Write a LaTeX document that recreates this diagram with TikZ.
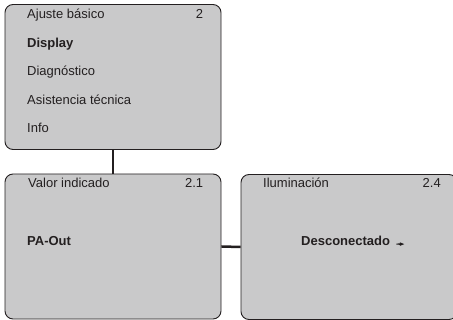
\documentclass[tikz,border=0pt]{standalone}
\usepackage{fontspec}
\setmainfont{Liberation Sans}
\usepackage{tikz}
\usetikzlibrary{positioning, arrows.meta}

\definecolor{boxgray}{RGB}{201,201,202}
\definecolor{inkgray}{RGB}{35,31,32}

\begin{document}
\begin{tikzpicture}[
            x=1pt, y=-1pt,
            menubox/.style={draw=inkgray, fill=boxgray, line width=0.9pt, rounded corners=8pt,
                minimum width=216pt, minimum height=145pt, inner sep=0pt},
            entry/.style={anchor=base west, inner sep=0pt, text=inkgray, font=\fontsize{13}{15}\selectfont},
            menuno/.style={entry, anchor=base east},
            chosen/.style={entry, font=\fontsize{13}{15}\selectfont\bfseries},
            link/.style={draw=inkgray, line width=2.5pt}
        ]

            \useasboundingbox (0,0) rectangle (453,320);
            \clip (0,0) rectangle (453,320);

            \node[menubox] (basic) at (113,77) {};
            \node[menubox] (value) at (113,246.5) {};
            \node[menubox] (light) at (349,247) {};

            \draw[link] (basic.south) -- (value.north);
            \draw[link] (value.east) -- (light.west);

            \node[entry] (basictitle) at (27,18.3) {Ajuste básico};
            \node[menuno] (basicno) at (203.3,18.3) {2};
            \node[chosen] (display) at (27,47.3) {Display};
            \node[entry] (diag) at (27,76) {Diagnóstico};
            \node[entry] (service) at (27,104.5) {Asistencia técnica};
            \node[entry] (info) at (27,133) {Info};

            \node[entry] (valuetitle) at (28,187.3) {Valor indicado};
            \node[menuno] (valueno) at (203.3,187.3) {2.1};
            \node[chosen] (paout) at (27,246) {PA-Out};

            \node[entry] (lighttitle) at (263,187.5) {Iluminación};
            \node[menuno] (lightno) at (441,187.5) {2.4};
            \node[chosen] (off) at (301,245.7) {Desconectado};
            \fill[inkgray] ([xshift=6pt, yshift=1.6pt]off.base east) -- ++(0,-0.5) -- ++(3.5,-0.2) -- ++(0,-1.1)
                -- ++(4.5,1.8) -- ++(-4.5,1.8) -- ++(0,-1.1) -- ++(-3.5,-0.2) -- cycle;
        \end{tikzpicture}
\end{document}
